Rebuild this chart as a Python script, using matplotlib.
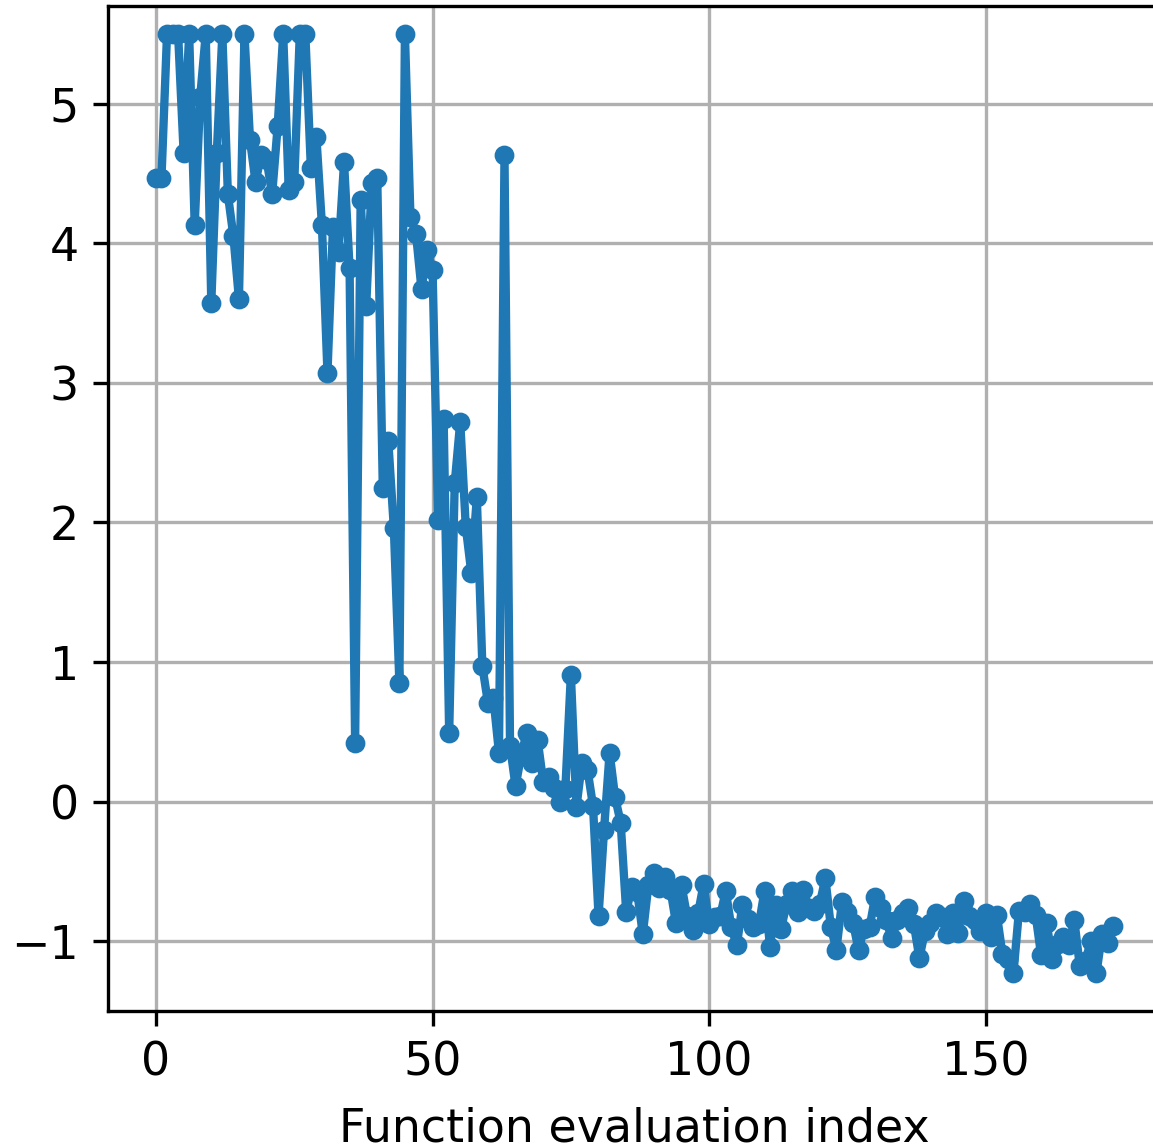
import matplotlib
matplotlib.use("Agg")
import matplotlib.pyplot as plt
import numpy as np

# значения функции по номеру вычисления
values = [
    4.47, 4.47, 5.50, 5.50, 5.50, 4.65, 5.50, 4.13, 5.05, 5.50,
    3.57, 4.65, 5.50, 4.35, 4.05, 3.60, 5.50, 4.74, 4.44, 4.63,
    4.60, 4.35, 4.84, 5.50, 4.38, 4.44, 5.50, 5.50, 4.54, 4.76,
    4.13, 3.07, 4.12, 3.94, 4.58, 3.82, 0.42, 4.31, 3.55, 4.43,
    4.47, 2.25, 2.58, 1.96, 0.85, 5.50, 4.19, 4.07, 3.67, 3.95,
    3.81, 2.02, 2.74, 0.49, 2.28, 2.72, 1.97, 1.64, 2.18, 0.97,
    0.71, 0.74, 0.35, 4.63, 0.40, 0.11, 0.33, 0.49, 0.28, 0.44,
    0.14, 0.18, 0.10, 0.00, 0.09, 0.91, -0.04, 0.28, 0.23, -0.03,
    -0.82, -0.20, 0.35, 0.03, -0.15, -0.79, -0.61, -0.65, -0.95, -0.60,
    -0.51, -0.62, -0.54, -0.63, -0.87, -0.60, -0.82, -0.92, -0.80, -0.59,
    -0.88, -0.83, -0.82, -0.64, -0.90, -1.03, -0.74, -0.84, -0.90, -0.88,
    -0.64, -1.04, -0.74, -0.91, -0.73, -0.64, -0.79, -0.63, -0.76, -0.78,
    -0.73, -0.55, -0.90, -1.06, -0.72, -0.79, -0.87, -1.06, -0.91, -0.90,
    -0.68, -0.76, -0.85, -0.98, -0.85, -0.80, -0.76, -0.88, -1.12, -0.93,
    -0.87, -0.80, -0.83, -0.95, -0.80, -0.94, -0.71, -0.82, -0.85, -0.93,
    -0.80, -0.97, -0.81, -1.09, -1.13, -1.23, -0.78, -0.79, -0.73, -0.81,
    -1.10, -0.87, -1.13, -1.02, -0.97, -1.03, -0.85, -1.18, -1.14, -1.00,
    -1.23, -0.95, -1.01, -0.89,
]
index = np.arange(len(values))

plt.rcParams['font.size'] = 11

fig = plt.figure(figsize=(1153 / 300, 1148 / 300), dpi=300)
ax = fig.add_axes([108 / 1153, 137 / 1148, 1053 / 1153, 1005 / 1148])

ax.plot(index, values, '.-', color='#1f77b4', lw=2, ms=7.5)
ax.grid(True, color='#b0b0b0', lw=0.8)
ax.set_axisbelow(True)
ax.set_xlim(-8.67, 181.67)
ax.set_ylim(-1.5, 5.7)
ax.set_xticks([0, 50, 100, 150])
ax.set_yticks([-1, 0, 1, 2, 3, 4, 5])
ax.set_xlabel("Function evaluation index", labelpad=5)

fig.savefig("out.png", dpi=300)
